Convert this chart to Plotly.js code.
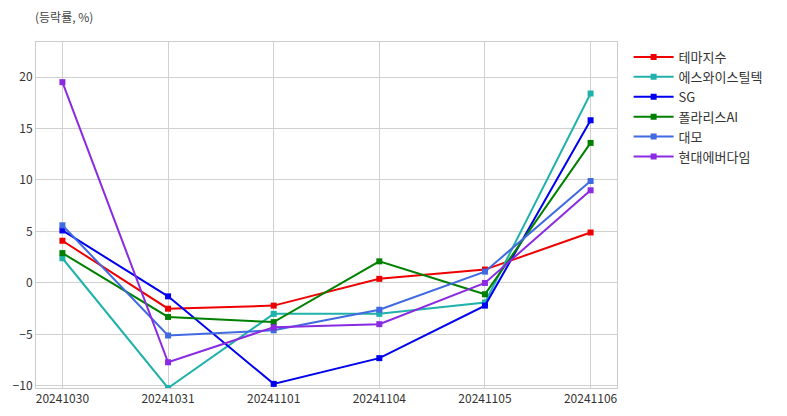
<!DOCTYPE html>
<html>
<head>
<meta charset="utf-8">
<script src="https://cdn.plot.ly/plotly-3.0.1.min.js"></script>
<style>html,body{margin:0;padding:0;background:#fff;}#chart{width:787px;height:416px;}</style>
</head>
<body>
<div id="chart"></div>
<script>
const dates = ["20241030","20241031","20241101","20241104","20241105","20241106"];
const seriesNames = ["테마지수","에스와이스틸텍","SG","폴라리스AI","대모","현대에버다임"];
const themeIndex = [4.1, -2.5, -2.2, 0.4, 1.3, 4.9];
const sySteeltech = [2.4, -10.2, -3.0, -3.0, -1.9, 18.4];
const sg = [5.1, -1.3, -9.8, -7.3, -2.2, 15.8];
const polarisAI = [2.9, -3.3, -3.8, 2.1, -1.1, 13.6];
const daemo = [5.6, -5.1, -4.6, -2.6, 1.1, 9.9];
const hyundaiEverdigm = [19.5, -7.7, -4.3, -4.0, 0.0, 9.0];
const yTicks = [-10, -5, 0, 5, 10, 15, 20];

const values = [themeIndex, sySteeltech, sg, polarisAI, daemo, hyundaiEverdigm];
const colors = ["#ee0000", "#20b2aa", "#0000ee", "#008000", "#4169e1", "#8a2be2"];

const traces = values.map((v, i) => ({
  type: "scatter",
  mode: "lines+markers",
  name: seriesNames[i],
  x: dates,
  y: v,
  line: {color: colors[i], width: 2},
  marker: {color: colors[i], symbol: "square", size: 6}
}));

const layout = {
  width: 787, height: 416,
  margin: {l: 36, r: 170, t: 42, b: 28},
  paper_bgcolor: "#fff", plot_bgcolor: "#fff",
  font: {family: "Noto Sans CJK KR, Noto Sans, sans-serif", size: 12, color: "#333"},
  showlegend: true,
  legend: {x: 1.02, y: 1, xanchor: "left", yanchor: "top", font: {size: 13, color: "#333"}, bgcolor: "rgba(0,0,0,0)", tracegroupgap: 0, itemwidth: 40},
  xaxis: {
    type: "category", range: [-0.25, 5.25],
    showgrid: true, gridcolor: "#d0d0d0", gridwidth: 1,
    showline: true, linecolor: "#cccccc", mirror: true, zeroline: false,
    ticks: "", tickfont: {size: 12, color: "#333"}
  },
  yaxis: {
    range: [-10.2, 23.4], tickvals: yTicks,
    showgrid: true, gridcolor: "#d0d0d0", gridwidth: 1,
    showline: true, linecolor: "#cccccc", mirror: true, zeroline: false,
    ticks: "", tickfont: {size: 12, color: "#333"}
  },
  annotations: [{
    text: "(등락률, %)", xref: "paper", yref: "paper", x: -0.006, y: 1.075,
    xanchor: "left", yanchor: "middle", showarrow: false,
    font: {size: 12, color: "#444"}
  }]
};

Plotly.newPlot("chart", traces, layout, {displayModeBar: false});
</script>
</body>
</html>
